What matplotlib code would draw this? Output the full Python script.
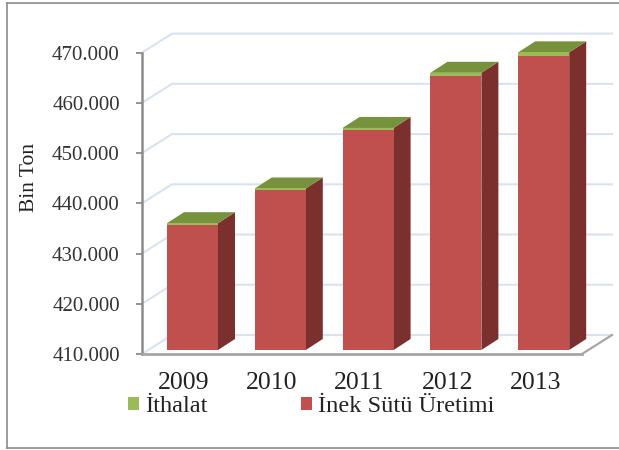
import matplotlib
matplotlib.use("Agg")
import matplotlib.pyplot as plt
from matplotlib.lines import Line2D
import numpy as np

yillar = ["2009", "2010", "2011", "2012", "2013"]
inek_sutu = [435700, 442550, 454600, 465300, 469250]
ithalat = [340, 400, 400, 680, 800]
y_ticks = [410000, 420000, 430000, 440000, 450000, 460000, 470000]
y_labels = ["410.000", "420.000", "430.000", "440.000", "450.000", "460.000", "470.000"]

W, H = 619, 450
plt.rcParams["font.family"] = ["Liberation Serif", "DejaVu Serif"]

fig = plt.figure(figsize=(W / 100, H / 100), dpi=100)
fig.patch.set_facecolor("white")

# axes icin piksel sinirlari
sol, sag, ust, alt = 142, 582, 52.6, 354
ax = fig.add_axes([sol / W, 1 - alt / H, (sag - sol) / W, (alt - ust) / H])
ax.patch.set_visible(False)

aralik = 87.8
ax.set_xlim((sol - 192.5) / aralik, (sag - 192.5) / aralik)
ax.set_ylim(410000, 470000)
px_y = 60000 / (alt - ust)

# duvar ve sutun derinligi
duvar_dx, duvar_dy = 30 / aralik, 19 * px_y
sutun_dx, sutun_dy = 17 / aralik, 11 * px_y
sutun_genislik = 51 / aralik
taban = 410000 + 4 * px_y

x0, x1 = ax.get_xlim()
grid_renk = "#d8e3f1"

# arka duvar cizgileri
for t in y_ticks:
    ax.plot([x0, x0 + duvar_dx, x1 + duvar_dx], [t, t + duvar_dy, t + duvar_dy],
            color=grid_renk, lw=1.5, clip_on=False, zorder=1)

# zemin
ax.plot([x1, x1 + duvar_dx], [410000, 410000 + duvar_dy], color="#a6a6a6", lw=1.6,
        clip_on=False, zorder=2)

x = np.arange(len(yillar))
inek = np.array(inek_sutu)
toplam = inek + np.array(ithalat)

bar1 = ax.bar(x, inek - taban, sutun_genislik, bottom=taban, color="#c0504d", zorder=4,
              label="İnek Sütü Üretimi", clip_on=False)
bar2 = ax.bar(x, ithalat, sutun_genislik, bottom=inek, color="#9bbb59", zorder=4,
              label="İthalat", clip_on=False)

for i in x:
    sag_x = i + sutun_genislik / 2
    sol_x = i - sutun_genislik / 2
    # yan yuz
    ax.fill([sag_x, sag_x + sutun_dx, sag_x + sutun_dx, sag_x],
            [taban, taban + sutun_dy, toplam[i] + sutun_dy, toplam[i]],
            color="#7b302e", lw=0, clip_on=False, zorder=3)
    # ust yuz
    ax.fill([sol_x, sag_x, sag_x + sutun_dx, sol_x + sutun_dx],
            [toplam[i], toplam[i], toplam[i] + sutun_dy, toplam[i] + sutun_dy],
            color="#76923c", lw=0, clip_on=False, zorder=3)

for s in ["top", "right"]:
    ax.spines[s].set_visible(False)
ax.spines["left"].set_color("#8c8c8c")
ax.spines["left"].set_linewidth(1.8)
ax.spines["bottom"].set_color("#a6a6a6")
ax.spines["bottom"].set_linewidth(2)

ax.set_yticks(y_ticks)
ax.set_yticklabels(y_labels, fontsize=15, color="#333333")
ax.set_xticks(x - 8.5 / aralik)
ax.set_xticklabels(yillar, fontsize=18.5, color="#222222")
ax.tick_params(axis="y", length=4, width=1.3, color="#8c8c8c", pad=12)
ax.tick_params(axis="x", length=0, pad=13)

fig.text(29 / W, 1 - 177 / H, "Bin Ton", rotation=90, fontsize=15.5, color="#222222",
         ha="center", va="center")

ax.legend([bar2, bar1], ["İthalat", "İnek Sütü Üretimi"], ncol=2, frameon=False,
          fontsize=17.6, loc="center left", bbox_to_anchor=(128 / W, 1 - 407 / H),
          bbox_transform=fig.transFigure, handlelength=0.45, handleheight=0.45,
          handletextpad=0.24, columnspacing=3.85, borderpad=0, borderaxespad=0,
          labelcolor="#222222")

# dis cerceve
for xs, ys in [([6.5, 6.5], [3, 448]), ([6.5, W], [3, 3]), ([6.5, W], [448, 448])]:
    fig.add_artist(Line2D([v / W for v in xs], [1 - v / H for v in ys], color="#8a8a8a", lw=1.2))

fig.savefig("out.png", dpi=100)
